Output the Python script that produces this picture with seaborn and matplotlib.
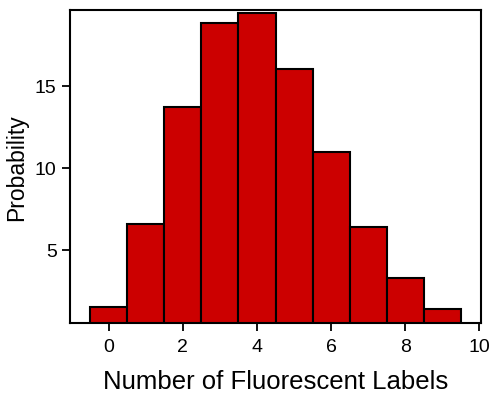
import matplotlib
matplotlib.use("Agg")

import matplotlib.pyplot as plt
import seaborn as sns

# -----------------------------
# Data
# -----------------------------
n_labels = [0, 1, 2, 3, 4, 5, 6, 7, 8, 9]
probability = [1.5, 6.6, 13.7, 18.85, 19.45, 16.0, 10.95, 6.42, 3.27, 1.42]

x_ticks = [0, 2, 4, 6, 8, 10]
y_ticks = [5, 10, 15]

# -----------------------------
# Style
# -----------------------------
sns.set_style("ticks")
plt.rcParams["font.family"] = ["Liberation Sans", "DejaVu Sans"]
plt.rcParams["text.color"] = "black"
plt.rcParams["axes.labelcolor"] = "black"
plt.rcParams["xtick.color"] = "black"
plt.rcParams["ytick.color"] = "black"

fig = plt.figure(figsize=(4.92, 4.02), dpi=100)
ax = fig.add_axes([0.142, 0.194, 0.836, 0.779])

sns.histplot(
    x=n_labels,
    weights=probability,
    discrete=True,
    color="#cc0000",
    edgecolor="black",
    linewidth=1.5,
    alpha=1,
    ax=ax
)

ax.set_xlim(-1.05, 10.05)
ax.set_ylim(0.55, 19.63)
ax.set_xticks(x_ticks)
ax.set_yticks(y_ticks)

ax.set_xlabel("Number of Fluorescent Labels", fontsize=18.5, labelpad=10)
ax.set_ylabel("Probability", fontsize=16.5, labelpad=5)
ax.tick_params(axis="both", labelsize=14, length=6, width=1.3,
               direction="out", color="black", labelcolor="black")
ax.tick_params(axis="x", pad=5)

for side in ["left", "right", "top", "bottom"]:
    ax.spines[side].set_visible(True)
    ax.spines[side].set_linewidth(1.5)
    ax.spines[side].set_color("black")

fig.savefig("out.png", dpi=100)
plt.close()
